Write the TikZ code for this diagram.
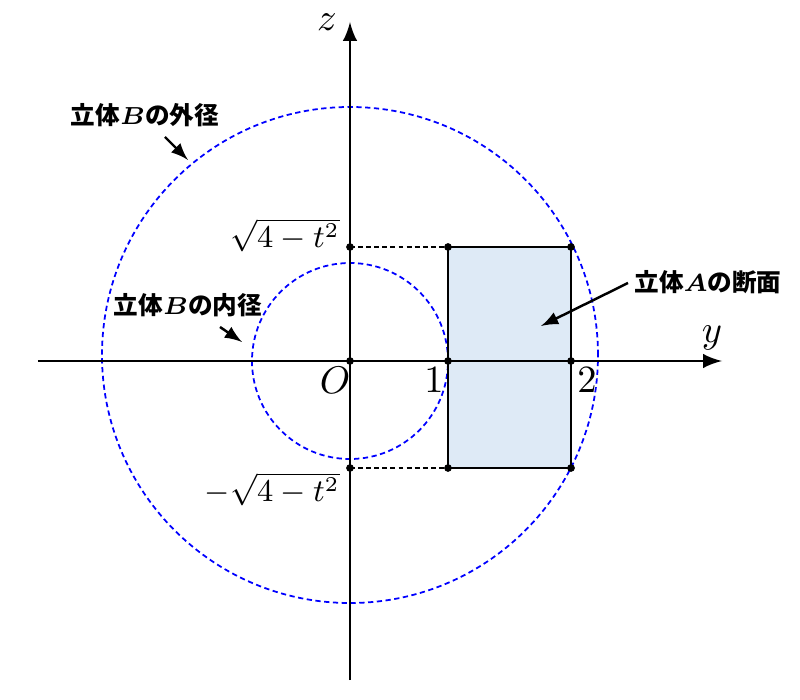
\documentclass[tikz,border=0pt]{standalone}
\usepackage{amsmath, amssymb}
\usepackage{fontspec}
\newfontfamily\jp{Noto Sans CJK JP}
\usetikzlibrary{calc,shapes, arrows}
\definecolor{secfill}{HTML}{DEEAF6}

\begin{document}
\begin{tikzpicture}[x=0.01cm,y=0.01cm,
        axis/.style={line width=0.85pt},
        ring/.style={blue, line width=0.5pt, dash pattern=on 1.5pt off 1pt},
        guide/.style={line width=0.45pt, dash pattern=on 1.4pt off 0.9pt},
        jlabel/.style={font=\jp\bfseries\fontsize{7}{8}\selectfont},
        mlabel/.style={font=\fontsize{9}{10}\selectfont},
        nlabel/.style={font=\fontsize{10.5}{12}\selectfont},
        pointer/.style={-latex, line width=0.7pt}]
        \useasboundingbox (-350,-339) rectangle (450,361);
        % cross section
        \coordinate (a1) at (98,114);
        \coordinate (a2) at (221,114);
        \coordinate (b1) at (98,0);
        \coordinate (b2) at (221,0);
        \coordinate (c1) at (98,-107);
        \coordinate (c2) at (221,-107);
        \coordinate (zt) at (0,114);
        \coordinate (zb) at (0,-107);
        \coordinate (O) at (0,0);
        \fill[secfill] (c1) rectangle (a2);
        \draw[ring] (0,6) circle (248);
        \draw[ring] (O) circle (98);
        \draw[line width=0.6pt] (c1) rectangle (a2);
        \draw[guide] (zt) -- (a1);
        \draw[guide] (zb) -- (c1);
        % axes
        \coordinate (xl) at (-312,0);
        \coordinate (xr) at (372,0);
        \coordinate (zd) at (0,-319);
        \coordinate (zu) at (0,339);
        \draw[axis,-latex] (xl) -- (xr);
        \draw[axis,-latex] (zd) -- (zu);
        \foreach \p in {zt,a1,a2,O,b1,b2,zb,c1,c2}
        \fill (\p) circle (1.1pt);
        \node[nlabel] (zlbl) at (-23,339) {$z$};
        \node[nlabel] (ylbl) at (362,23) {$y$};
        \node[nlabel] (olbl) at (-15,-19) {$O$};
        \node[nlabel] (onelbl) at (84,-19) {$1$};
        \node[nlabel] (twolbl) at (237,-19) {$2$};
        \node[mlabel,anchor=east] (toplbl) at (2,126) {$\sqrt{4-t^2}$};
        \node[mlabel,anchor=east] (botlbl) at (2,-128) {$-\sqrt{4-t^2}$};
        % labels with arrows
        \node[jlabel] (outerlbl) at (-205,246) {立体$\boldsymbol{B}$の外径};
        \coordinate (outerfrom) at (-185,224);
        \coordinate (outerto) at (-162,201);
        \draw[pointer] (outerfrom) -- (outerto);
        \node[jlabel] (innerlbl) at (-162,56) {立体$\boldsymbol{B}$の内径};
        \coordinate (innerfrom) at (-130,34);
        \coordinate (innerto) at (-108,19);
        \draw[pointer] (innerfrom) -- (innerto);
        \node[jlabel] (seclbl) at (358,79) {立体$\boldsymbol{A}$の断面};
        \coordinate (secfrom) at (278,78);
        \coordinate (secto) at (191,35);
        \draw[pointer] (secfrom) -- (secto);
    \end{tikzpicture}
\end{document}
